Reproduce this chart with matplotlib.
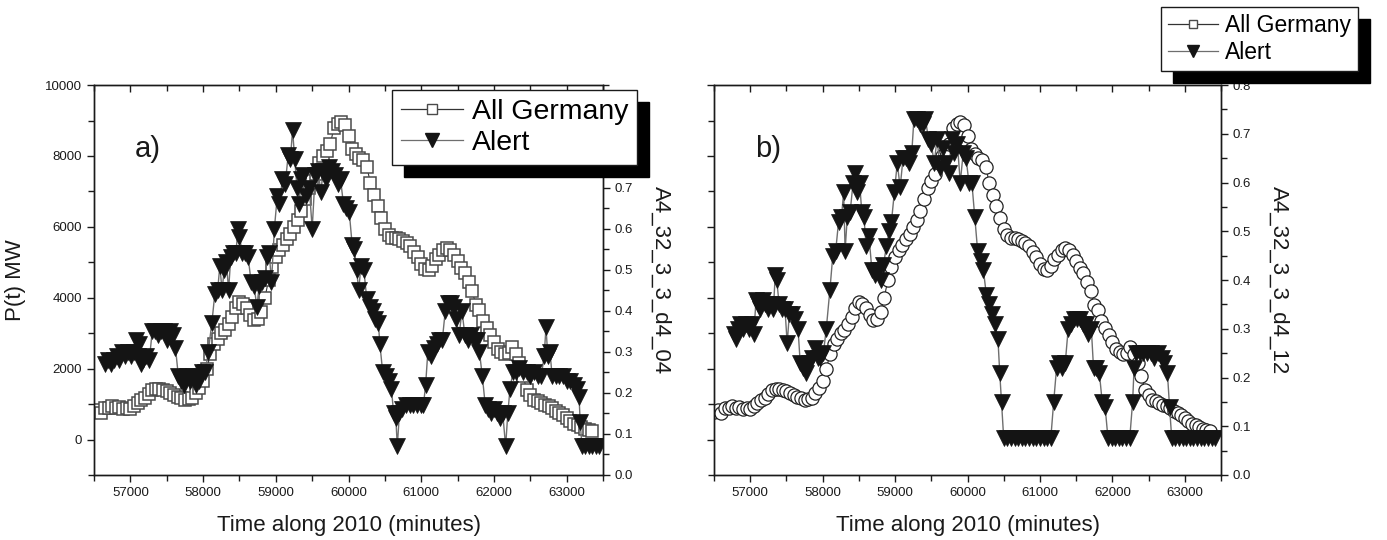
import numpy as np
import matplotlib
matplotlib.use("Agg")
import matplotlib.pyplot as plt
from matplotlib.lines import Line2D
from matplotlib.ticker import MultipleLocator, FormatStrFormatter, FuncFormatter

plt.rcParams['font.family'] = ['Liberation Sans', 'DejaVu Sans']

# All Germany power, one reading every 50 minutes from minute 56500
power_start, power_step = 56500, 50
power_mw = [
    780, 820, 760, 880, 900, 960, 880, 920, 870, 900,          # 56500-56950
    870, 950, 1020, 1120, 1180, 1280, 1400, 1430, 1420, 1400,  # 57000-57450
    1380, 1300, 1250, 1200, 1170, 1120, 1140, 1180, 1300, 1450,  # 57500-57950
    1650, 2000, 2400, 2700, 2850, 3000, 3100, 3250, 3450, 3700,  # 58000-58450
    3880, 3820, 3700, 3500, 3380, 3400, 3600, 4000, 4500, 4870,  # 58500-58950
    5150, 5350, 5500, 5650, 5800, 6000, 6200, 6450, 6800, 7100,  # 59000-59450
    7300, 7500, 7800, 8000, 8150, 8350, 8800, 8900, 8960, 8870,  # 59500-59950
    8550, 8200, 8050, 7950, 7900, 7700, 7250, 6900, 6600, 6250,  # 60000-60450
    5950, 5780, 5700, 5680, 5650, 5600, 5540, 5450, 5300, 5150,  # 60500-60950
    4950, 4800, 4780, 4900, 5080, 5200, 5350, 5400, 5350, 5200,  # 61000-61450
    5050, 4850, 4700, 4450, 4200, 3800, 3650, 3350, 3150, 2950,  # 61500-61950
    2750, 2560, 2480, 2420, 2450, 2600, 2400, 2150, 1800, 1400,  # 62000-62450
    1250, 1120, 1080, 1020, 980, 950, 880, 800, 740, 680,        # 62500-62950
    600, 520, 450, 400, 350, 300, 260, 250]                      # 63000-63350
power_t = power_start + power_step * np.arange(len(power_mw))

# alert index A4_32_3_3_d4_04, (minute, value)
alert_04 = [
    (56650, .27), (56690, .28), (56730, .27), (56770, .28), (56810, .29), (56850, .28),
    (56890, .30), (56930, .29), (56970, .30), (57010, .29), (57050, .30), (57080, .33),
    (57100, .29), (57120, .32), (57150, .27), (57180, .28), (57220, .29), (57260, .28),
    (57300, .35), (57340, .35), (57380, .34), (57420, .35), (57460, .35), (57500, .33),
    (57540, .35), (57580, .34), (57620, .31), (57660, .24), (57700, .23), (57740, .22),
    (57780, .24), (57820, .23), (57860, .24), (57900, .22), (57940, .23), (57980, .25),
    (58030, .25), (58070, .30), (58120, .37), (58160, .44), (58200, .45), (58230, .51),
    (58260, .45), (58290, .50), (58320, .52), (58350, .45), (58380, .53), (58410, .54),
    (58450, .54), (58480, .60), (58500, .58), (58540, .54), (58580, .54), (58620, .53),
    (58660, .47), (58700, .46), (58740, .41), (58770, .46), (58810, .47), (58850, .48),
    (58880, .53), (58910, .54), (58940, .47), (58980, .60), (59020, .68), (59050, .66),
    (59090, .72), (59130, .71), (59170, .78), (59200, .77), (59230, .84), (59260, .77),
    (59290, .70), (59320, .66), (59350, .72), (59380, .73), (59420, .68), (59460, .70),
    (59500, .60), (59540, .73), (59580, .74), (59620, .69), (59650, .74), (59690, .72),
    (59730, .75), (59770, .74), (59810, .73), (59850, .71), (59890, .72), (59930, .66),
    (59970, .65), (60010, .64), (60050, .56), (60080, .55), (60110, .50), (60140, .45),
    (60170, .51), (60210, .50), (60250, .43), (60290, .41), (60330, .40), (60370, .38),
    (60410, .37), (60430, .32), (60470, .25), (60510, .24), (60550, .23), (60590, .21),
    (60620, .15), (60650, .14), (60670, .07), (60700, .15), (60740, .16), (60790, .17),
    (60840, .17), (60890, .17), (60940, .17), (60990, .17), (61030, .17), (61060, .22),
    (61090, .30), (61130, .29), (61170, .31), (61210, .32), (61250, .33), (61290, .33),
    (61330, .40), (61370, .42), (61410, .42), (61450, .41), (61480, .38), (61520, .34),
    (61560, .40), (61600, .34), (61640, .33), (61680, .34), (61720, .33), (61760, .33),
    (61800, .30), (61840, .24), (61880, .17), (61920, .16), (61960, .15), (62000, .16),
    (62040, .15), (62080, .14), (62120, .15), (62160, .07), (62190, .15), (62220, .21),
    (62260, .25), (62300, .25), (62350, .26), (62400, .25), (62450, .25), (62500, .24),
    (62550, .25), (62600, .24), (62650, .24), (62690, .29), (62715, .36), (62740, .29),
    (62770, .30), (62800, .24), (62850, .24), (62900, .24), (62950, .24), (63000, .23),
    (63050, .23), (63100, .22), (63140, .21), (63170, .19), (63185, .13), (63210, .07),
    (63250, .07), (63300, .07), (63350, .07), (63400, .07), (63440, .07)]

# alert index A4_32_3_3_d4_12, (minute, value)
alert_12 = [
    (56770, .29), (56800, .28), (56830, .30), (56860, .31), (56900, .30), (56940, .31),
    (56980, .30), (57020, .31), (57050, .29), (57080, .36), (57110, .35), (57140, .34),
    (57170, .36), (57200, .35), (57240, .34), (57280, .35), (57320, .34), (57345, .41),
    (57365, .40), (57400, .35), (57440, .34), (57480, .34), (57510, .27), (57540, .33),
    (57580, .33), (57620, .32), (57660, .30), (57690, .23), (57730, .22), (57770, .21),
    (57810, .23), (57850, .24), (57890, .26), (57930, .24), (57970, .24), (58010, .25),
    (58050, .30), (58100, .38), (58140, .45), (58180, .46), (58220, .52), (58260, .53),
    (58290, .58), (58310, .46), (58340, .53), (58380, .54), (58420, .60), (58450, .62),
    (58480, .58), (58510, .60), (58540, .54), (58570, .53), (58600, .47), (58640, .49),
    (58680, .42), (58720, .41), (58760, .42), (58800, .40), (58840, .43), (58880, .47),
    (58920, .50), (58950, .52), (58990, .58), (59030, .64), (59070, .59), (59110, .65),
    (59150, .65), (59190, .64), (59230, .66), (59260, .73), (59300, .73), (59340, .72),
    (59380, .72), (59420, .73), (59460, .69), (59500, .68), (59540, .64), (59580, .69),
    (59620, .63), (59660, .67), (59700, .64), (59740, .62), (59780, .69), (59820, .66),
    (59860, .68), (59900, .60), (59940, .66), (59980, .65), (60020, .60), (60060, .60),
    (60100, .53), (60140, .46), (60180, .44), (60220, .42), (60260, .37), (60300, .35),
    (60340, .33), (60380, .31), (60420, .28), (60445, .21), (60470, .15), (60500, .075),
    (60550, .075), (60600, .075), (60650, .075), (60700, .075), (60750, .075), (60800, .075),
    (60850, .075), (60900, .075), (60950, .075), (61000, .075), (61050, .075), (61100, .075),
    (61150, .075), (61190, .15), (61230, .22), (61270, .23), (61310, .22), (61350, .23),
    (61390, .30), (61430, .31), (61470, .32), (61510, .32), (61550, .32), (61590, .31),
    (61630, .31), (61670, .29), (61710, .30), (61740, .22), (61780, .22), (61820, .21),
    (61860, .15), (61900, .14), (61940, .075), (61990, .075), (62040, .075), (62090, .075),
    (62140, .075), (62190, .075), (62240, .075), (62280, .15), (62300, .22), (62330, .25),
    (62380, .25), (62430, .25), (62480, .25), (62530, .25), (62580, .24), (62630, .25),
    (62680, .24), (62720, .23), (62760, .21), (62790, .14), (62820, .075), (62870, .075),
    (62920, .075), (62970, .075), (63020, .075), (63070, .075), (63120, .075), (63170, .075),
    (63220, .075), (63270, .075), (63320, .075), (63370, .075), (63420, .075)]

legend_labels = ['All Germany', 'Alert']
x_label = 'Time along 2010 (minutes)'

ink = '#1a1a1a'

fig = plt.figure(figsize=(13.87, 5.40), dpi=100)
ax_a = fig.add_axes([0.0678, 0.1204, 0.367, 0.722])
ax_b = fig.add_axes([0.5148, 0.1204, 0.3655, 0.722])


def draw_panel(ax, alerts, power_marker, right_top, right_label, tag,
               left_labels, legend_xy, legend_fs, label_max):
    if power_marker == 's':
        ax.plot(power_t, power_mw, color='#333333', lw=0.8, marker='s', ms=8.5,
                mfc='white', mec='#4a4a4a', mew=1.1)
    else:
        ax.plot(power_t, power_mw, color='#333333', lw=0.8, marker='o', ms=9.5,
                mfc='white', mec='#222222', mew=0.9)
    ax.set_xlim(56500, 63500)
    ax.set_ylim(-1000, 10000)

    ax2 = ax.twinx()
    at, av = zip(*alerts)
    ax2.plot(at, av, color='#6e6e6e', lw=1.0, marker='v', ms=11,
             mfc='#141414', mec='#141414', mew=0.5)
    ax2.set_ylim(0, right_top)

    # ticks
    ax.xaxis.set_major_locator(MultipleLocator(1000))
    ax.xaxis.set_minor_locator(MultipleLocator(500))
    ax.yaxis.set_major_locator(MultipleLocator(2000))
    ax.yaxis.set_minor_locator(MultipleLocator(1000))
    ax.yaxis.set_major_formatter(FormatStrFormatter('%d'))
    ax.tick_params(axis='both', which='both', direction='out', top=False, right=False,
                   colors=ink, labelsize=9.5, width=1.0)
    ax.tick_params(which='major', length=5)
    ax.tick_params(which='minor', length=4)
    ax.tick_params(axis='y', labelleft=left_labels)

    ax2.xaxis.set_visible(True)
    ax2.tick_params(axis='x', which='both', direction='in', top=True, bottom=False,
                    labeltop=False, labelbottom=False, colors=ink, width=1.0)
    ax2.tick_params(axis='x', which='major', length=5)
    ax2.tick_params(axis='x', which='minor', length=4)
    ax2.yaxis.set_major_locator(MultipleLocator(0.1))
    ax2.yaxis.set_minor_locator(MultipleLocator(0.05))
    # labels under the legend box are hidden in the reference
    ax2.yaxis.set_major_formatter(
        FuncFormatter(lambda v, p: '%.1f' % v if v <= label_max + 1e-9 else ''))
    ax2.tick_params(axis='y', which='both', direction='out', colors=ink,
                    labelsize=9.5, width=1.0)
    ax2.tick_params(axis='y', which='major', length=5)
    ax2.tick_params(axis='y', which='minor', length=4)

    for a in (ax, ax2):
        for s in a.spines.values():
            s.set_color(ink)
            s.set_linewidth(1.0)

    ax.set_xlabel(x_label, fontsize=16, labelpad=12, color=ink)
    ax2.set_ylabel(right_label, fontsize=16, rotation=270, va='bottom',
                   labelpad=12, color=ink)
    ax.text(0.08, 0.835, tag, transform=ax.transAxes, fontsize=21,
            va='center', ha='left', color=ink)

    handles = [
        Line2D([], [], color='#333333', lw=0.9, marker='s', ms=legend_fs * 0.36,
               mfc='white', mec='#4a4a4a', mew=1.0),
        Line2D([], [], color='#6e6e6e', lw=0.9, marker='v', ms=legend_fs * 0.5,
               mfc='#141414', mec='#141414'),
    ]
    leg = ax2.legend(handles, legend_labels, loc='upper left',
                     bbox_to_anchor=legend_xy, bbox_transform=fig.transFigure,
                     fontsize=legend_fs, numpoints=1, fancybox=False,
                     framealpha=1, edgecolor=ink, borderaxespad=0,
                     handlelength=2.2, handletextpad=0.3, labelspacing=0.2,
                     borderpad=0.3,
                     shadow={'ox': 8.5, 'oy': -8.5, 'facecolor': 'black',
                             'edgecolor': 'black', 'alpha': 1})
    leg.get_frame().set_linewidth(1.0)
    leg.set_zorder(20)
    return ax2


draw_panel(ax_a, alert_04, 's', 0.95, 'A4_32_3_3_d4_04', 'a)', True,
           (0.2826, 0.8333), 20.5, 0.75)
draw_panel(ax_b, alert_12, 'o', 0.8, 'A4_32_3_3_d4_12', 'b)', False,
           (0.837, 0.987), 16.5, 0.8)

ax_a.set_ylabel('P(t) MW', fontsize=16, labelpad=14, color=ink)

fig.savefig('out.png', dpi=100)
